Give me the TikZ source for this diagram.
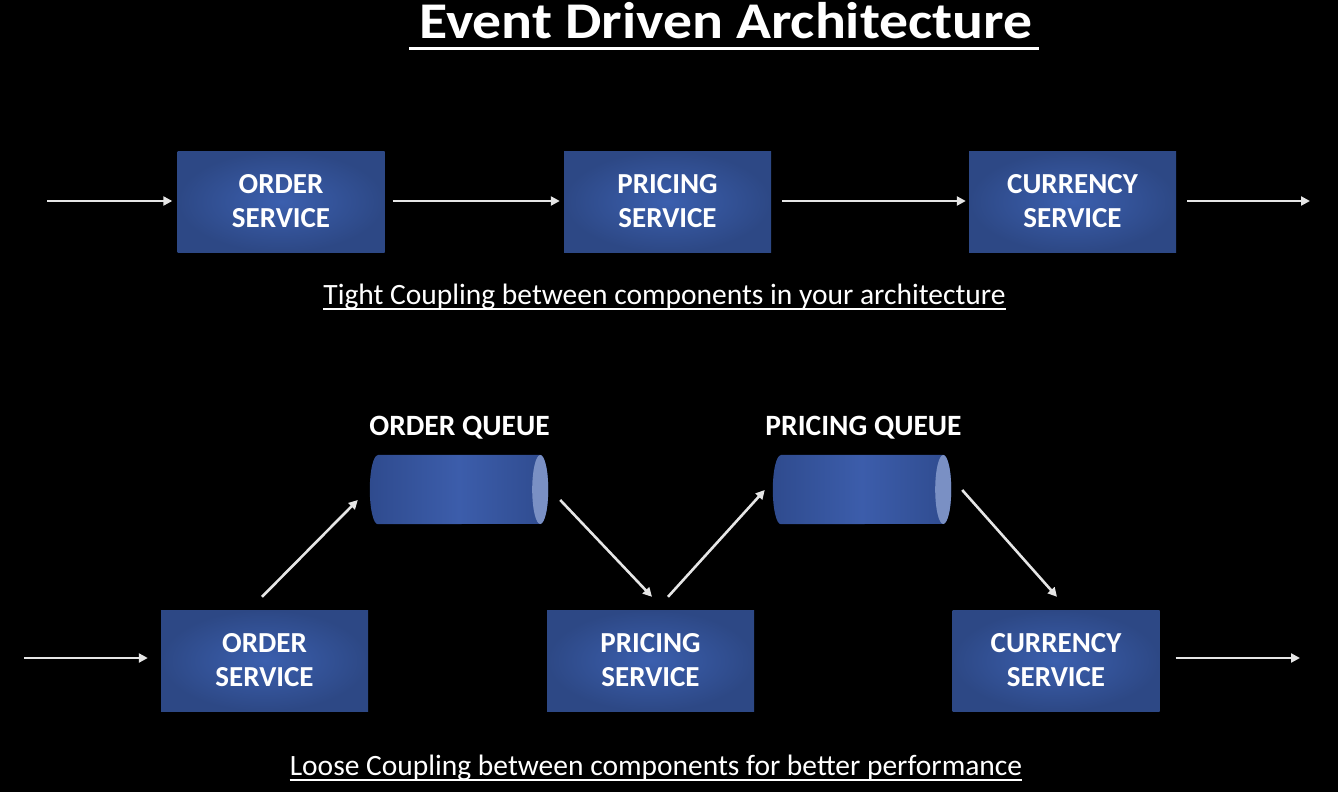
\documentclass[tikz,border=0pt]{standalone}
\usepackage{fontspec}
\setmainfont{Carlito}
\newfontfamily\titlefont[FakeStretch=1.12]{Carlito}
\usetikzlibrary{arrows.meta,calc}
\definecolor{boxin}{HTML}{3B5FAE}
\definecolor{boxout}{HTML}{2D4885}
\definecolor{cylmid}{HTML}{3C5DAB}
\definecolor{cylside}{HTML}{2F4B8E}
\definecolor{cylend}{HTML}{7A90C4}
\definecolor{arrowc}{HTML}{E6E6E6}
\tikzset{
  svcbox/.style={rectangle, minimum width=207pt, minimum height=101pt, inner sep=0pt,
    inner color=boxin, outer color=boxout, text=white, align=center,
    font=\fontsize{29}{34}\selectfont\bfseries},
  queuebox/.style={rectangle, minimum width=178pt, minimum height=69pt, inner sep=0pt},
  qlabel/.style={text=white, inner sep=0pt, font=\fontsize{29.5}{34}\selectfont\bfseries},
  caption/.style={text=white, inner sep=0pt, font=\fontsize{29.5}{34}\selectfont},
  flow/.style={draw=arrowc, line width=2.6pt, -{Triangle[length=9pt,width=9pt]}},
  uline/.style={draw=white, line width=2pt}
}
\newcommand{\drawqueue}[1]{%
  \shade[left color=cylside, right color=cylside, middle color=cylmid]
    ($(#1.north west)+(8,0)$) -- ($(#1.north east)+(-8,0)$)
    arc[start angle=90, end angle=-90, x radius=8pt, y radius=34.5pt]
    -- ($(#1.south west)+(8,0)$)
    arc[start angle=270, end angle=90, x radius=8pt, y radius=34.5pt] -- cycle;
  \fill[cylend] ($(#1.east)+(-8,0)$) ellipse[x radius=8pt, y radius=34.5pt];
}
\begin{document}
\begin{tikzpicture}[x=1pt,y=-1pt]
\fill[black] (0,0) rectangle (1338,792);
\useasboundingbox (0,0) rectangle (1338,792);
% title
\node[text=white, inner sep=0pt, font=\titlefont\fontsize{51.5}{60}\selectfont\bfseries, anchor=base] (title) at (726,38) {Event Driven Architecture};
\draw[uline, line width=3pt] (409,48.5) -- (1039,48.5);
% top row
\node[svcbox] (os1) at (281,201.5) {ORDER\\SERVICE};
\node[svcbox] (ps1) at (667.5,201.5) {PRICING\\SERVICE};
\node[svcbox] (cs1) at (1072.5,201.5) {CURRENCY\\SERVICE};
\coordinate (in1) at (47,201);
\coordinate (out1) at (1310,201);
\draw[flow] (in1) -- ([shift={(-5,-0.5)}]os1.west);
\draw[flow] ([shift={(8,-0.5)}]os1.east) -- ([shift={(-4,-0.5)}]ps1.west);
\draw[flow] ([shift={(11,-0.5)}]ps1.east) -- ([shift={(-3,-0.5)}]cs1.west);
\draw[flow] ([shift={(11,-0.5)}]cs1.east) -- (out1);
\node[caption, anchor=base] (cap1) at (664.5,304) {Tight Coupling between components in your architecture};
\draw[uline] ([yshift=-5pt]cap1.base west) -- ([yshift=-5pt]cap1.base east);
% bottom row
\node[queuebox] (oq) at (459,489.5) {};
\node[queuebox] (pq) at (862,489.5) {};
\drawqueue{oq}
\drawqueue{pq}
\node[qlabel, anchor=base] (oql) at (459.5,435) {ORDER QUEUE};
\node[qlabel, anchor=base] (pql) at (863.5,435) {PRICING QUEUE};
\node[svcbox] (os2) at (264.5,660.5) {ORDER\\SERVICE};
\node[svcbox] (ps2) at (650.5,660.5) {PRICING\\SERVICE};
\node[svcbox] (cs2) at (1056,660.5) {CURRENCY\\SERVICE};
\coordinate (in2) at (24,658);
\coordinate (out2) at (1300,658);
\draw[flow] (in2) -- ([shift={(-13,-2.5)}]os2.west);
\draw[flow] ([shift={(16,-2.5)}]cs2.east) -- (out2);
\draw[flow] ($(os2.north)+(-2.5,-13)$) -- ($(oq.west)+(-12,10.5)$);
\draw[flow] ($(oq.east)+(12,10.5)$) -- ($(ps2.north)+(1.5,-13)$);
\draw[flow] ($(ps2.north)+(17.5,-13)$) -- ($(pq.west)+(-8,0.5)$);
\draw[flow] ($(pq.east)+(11,0.5)$) -- ($(cs2.north)+(1,-13)$);
\node[caption, anchor=base] (cap2) at (656,775) {Loose Coupling between components for better performance};
\draw[uline] ([yshift=-5pt]cap2.base west) -- ([yshift=-5pt]cap2.base east);
\end{tikzpicture}
\end{document}
